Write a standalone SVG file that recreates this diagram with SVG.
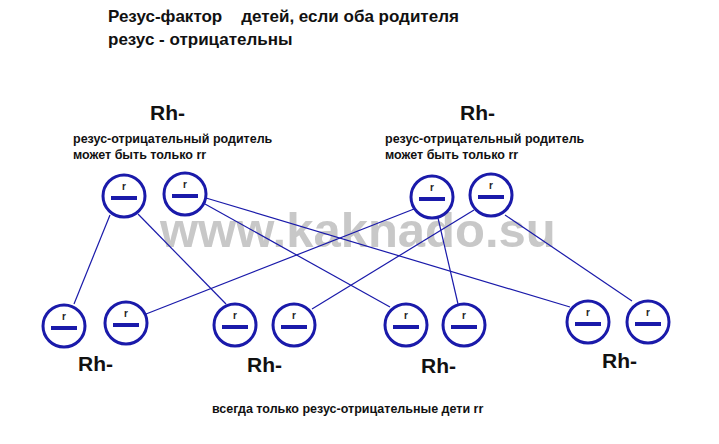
<svg xmlns="http://www.w3.org/2000/svg" width="719" height="444" viewBox="0 0 719 444">
<style>
text{font-family:"Liberation Sans",Arial,sans-serif;font-weight:bold;fill:#111}
.t{font-size:17px}.rh{font-size:21px}.s{font-size:12.5px}.g{font-size:10px;fill:#222}
.c{fill:#fff;stroke:#1a1aaa;stroke-width:3}
.b{stroke:#1a1aaa;stroke-width:4}
.l{stroke:#1a1aaa;stroke-width:1.2;fill:none}
</style>
<defs>
<g id="al"><circle class="c" r="21"/><line class="b" x1="-13" y1="2" x2="13" y2="2"/><text class="g" x="0" y="-6" text-anchor="middle">r</text></g>
</defs>
<rect width="719" height="444" fill="#fff"/>
<text x="160" y="247" style="font-size:49px;fill:#c8c8c8;font-weight:bold">www.kaknado.su</text>
<text class="t" x="108" y="22" xml:space="preserve">Резус-фактор    детей, если оба родителя</text>
<text class="t" x="108" y="45">резус - отрицательны</text>
<g id="connectors">
<line class="l" x1="110" y1="215" x2="74" y2="304"/>
<line class="l" x1="138" y1="214" x2="226" y2="304"/>
<line class="l" x1="205" y1="204" x2="390" y2="307"/>
<line class="l" x1="206" y1="198" x2="570" y2="307"/>
<line class="l" x1="414" y1="209" x2="146" y2="314"/>
<line class="l" x1="438" y1="218" x2="458" y2="304"/>
<line class="l" x1="474" y1="210" x2="312" y2="309"/>
<line class="l" x1="505" y1="215" x2="632" y2="301"/>
</g>
<g id="parent1"><text class="rh" x="150" y="120">Rh-</text>
<text class="s" x="73" y="143">резус-отрицательный родитель</text><text class="s" x="73" y="159">может быть только rr</text>
<use href="#al" x="124" y="196"/><use href="#al" x="185" y="194"/></g>
<g id="parent2"><text class="rh" x="460" y="120">Rh-</text>
<text class="s" x="385" y="143">резус-отрицательный родитель</text><text class="s" x="385" y="159">может быть только rr</text>
<use href="#al" x="432" y="197"/><use href="#al" x="491" y="195"/></g>
<g id="child1"><use href="#al" x="64" y="326"/><use href="#al" x="126" y="323"/><text class="rh" x="78" y="371">Rh-</text></g>
<g id="child2"><use href="#al" x="235" y="325"/><use href="#al" x="294" y="325"/><text class="rh" x="247" y="372">Rh-</text></g>
<g id="child3"><use href="#al" x="406" y="325"/><use href="#al" x="464" y="325"/><text class="rh" x="421" y="373">Rh-</text></g>
<g id="child4"><use href="#al" x="588" y="322"/><use href="#al" x="648" y="322"/><text class="rh" x="602" y="368">Rh-</text></g>
<text class="s" x="212" y="413">всегда только резус-отрицательные дети rr</text>
</svg>
